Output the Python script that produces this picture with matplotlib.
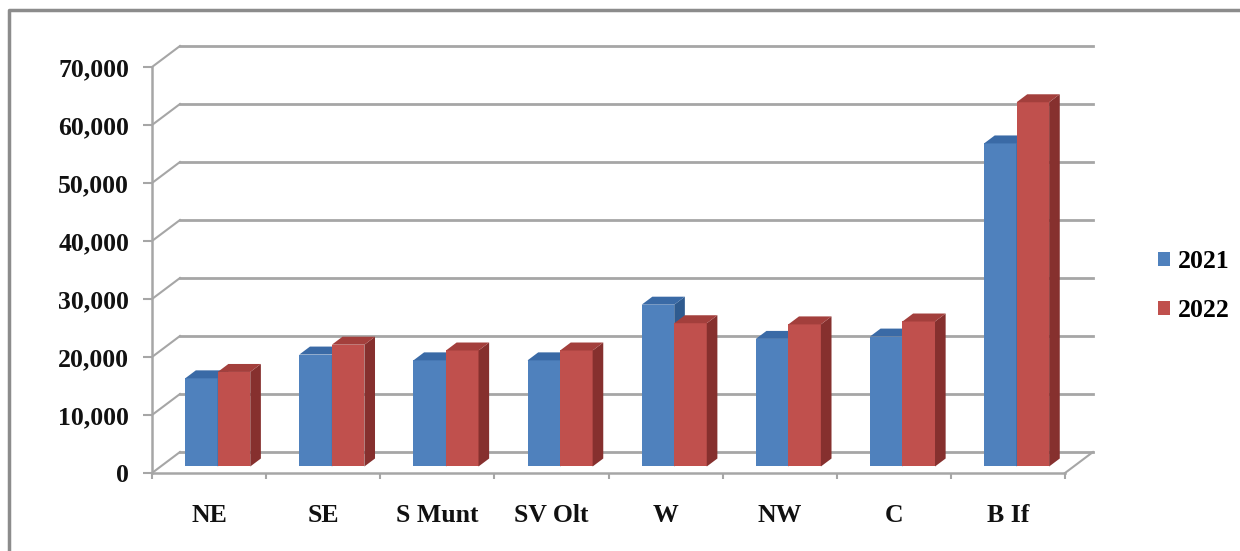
import matplotlib.pyplot as plt
from matplotlib.patches import Polygon, Rectangle
from matplotlib.lines import Line2D

regions = ['NE', 'SE', 'S Munt', 'SV Olt', 'W', 'NW', 'C', 'B If']
values_2021 = [15200, 19300, 18300, 18300, 27900, 22000, 22400, 55700]
values_2022 = [16300, 21000, 20000, 20000, 24700, 24500, 25000, 62800]
years = ['2021', '2022']
y_ticks = [0, 10000, 20000, 30000, 40000, 50000, 60000, 70000]

# colours for front / side / top faces of the pseudo-3D bars
face_colors = {
    '2021': ('#4f81bd', '#2f5b8f', '#3a6aa6'),
    '2022': ('#c0504d', '#86302e', '#a33f3c'),
}
grid_color = '#a6a6a6'

# depth of the plot box, expressed in data units
DX = 0.245
DY = 3620
BAR_FRONT = 0.31
BAR_BACK = 0.69
BAR_W = 0.285

plt.rcParams['font.family'] = ['Liberation Serif', 'DejaVu Serif']
plt.rcParams['font.weight'] = 'bold'

fig = plt.figure(figsize=(12.4, 5.51), dpi=100)
ax = fig.add_axes([152 / 1240, 78 / 551, 913 / 1240, 406 / 551])
ax.set_xlim(0, len(regions))
ax.set_ylim(0, 70000)
ax.patch.set_visible(False)

# back wall gridlines, left wall diagonals
for v in y_ticks:
    ax.plot([DX, len(regions) + DX], [v + DY, v + DY], color=grid_color,
            lw=2, clip_on=False, zorder=1)
    ax.plot([0, DX], [v, v + DY], color=grid_color, lw=1.5, clip_on=False, zorder=1)
# floor right edge
ax.plot([len(regions), len(regions) + DX], [0, DY], color=grid_color,
        lw=1.5, clip_on=False, zorder=1)


def draw_bar(x0, h, colors):
    front, side, top = colors
    fx = x0 + BAR_FRONT * DX
    fy = BAR_FRONT * DY
    ddx = (BAR_BACK - BAR_FRONT) * DX
    ddy = (BAR_BACK - BAR_FRONT) * DY
    ax.add_patch(Polygon([(fx, fy), (fx + BAR_W, fy), (fx + BAR_W, fy + h), (fx, fy + h)],
                         closed=True, facecolor=front, edgecolor='none', clip_on=False, zorder=3))
    ax.add_patch(Polygon([(fx + BAR_W, fy), (fx + BAR_W + ddx, fy + ddy),
                          (fx + BAR_W + ddx, fy + ddy + h), (fx + BAR_W, fy + h)],
                         closed=True, facecolor=side, edgecolor='none', clip_on=False, zorder=3))
    ax.add_patch(Polygon([(fx, fy + h), (fx + BAR_W, fy + h),
                          (fx + BAR_W + ddx, fy + ddy + h), (fx + ddx, fy + ddy + h)],
                         closed=True, facecolor=top, edgecolor='none', clip_on=False, zorder=3))


for i in range(len(regions)):
    draw_bar(i + 0.5 - BAR_W, values_2021[i], face_colors['2021'])
    draw_bar(i + 0.5, values_2022[i], face_colors['2022'])

# front axes
for side in ['top', 'right']:
    ax.spines[side].set_visible(False)
for side in ['left', 'bottom']:
    ax.spines[side].set_color(grid_color)
    ax.spines[side].set_linewidth(1.8)
    ax.spines[side].set_zorder(2)

ax.set_yticks(y_ticks)
ax.set_yticklabels([f'{v:,}' for v in y_ticks])
ax.tick_params(axis='y', length=6.5, width=1.5, color=grid_color, pad=10,
               labelsize=18.5, labelcolor='#111111')
ax.set_xticks(range(len(regions) + 1))
ax.set_xticklabels([])
ax.tick_params(axis='x', which='major', length=4, width=1.5, color=grid_color)
ax.set_xticks([i + 0.5 for i in range(len(regions))], minor=True)
ax.set_xticklabels(regions, minor=True)
ax.tick_params(axis='x', which='minor', length=0, pad=22, labelsize=18.5,
               labelcolor='#111111')

# legend
handles = [Rectangle((0, 0), 1, 1, facecolor=face_colors[y][0]) for y in years]
fig.legend(handles, years, loc='center left', bbox_to_anchor=(1148 / 1240, 1 - 286 / 551),
           frameon=False, fontsize=18.5, handlelength=0.45, handleheight=0.45,
           handletextpad=0.3, labelspacing=1.0, borderaxespad=0)

# chart area frame (left and top edges)
fig.add_artist(Line2D([9 / 1240, 9 / 1240, 1], [0, 1 - 10 / 551, 1 - 10 / 551],
                      color='#8c8c8c', lw=2.5))

fig.savefig('out.png', dpi=100)
